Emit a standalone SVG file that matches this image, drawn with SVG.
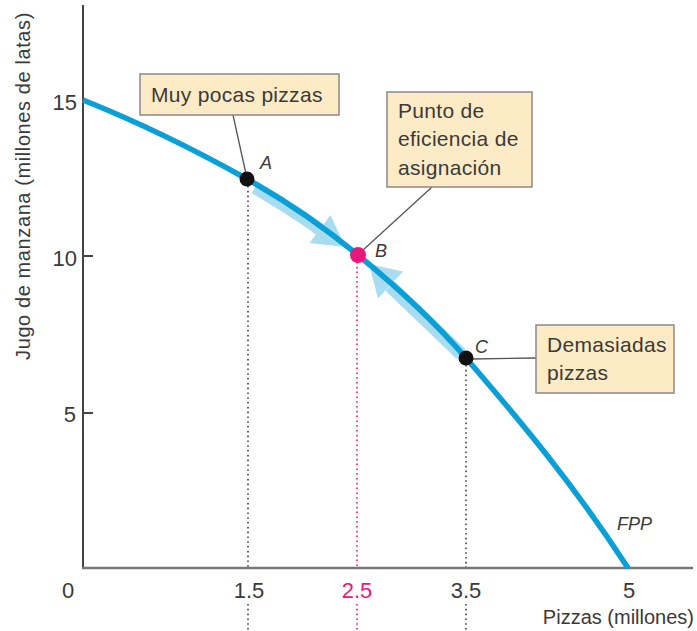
<svg xmlns="http://www.w3.org/2000/svg" width="697" height="631" viewBox="0 0 697 631">
<style>
text{font-family:"Liberation Sans",Arial,sans-serif;fill:#3a3a3a}
.tick{font-size:22px}
.box rect{fill:#fdebc6;stroke:#8a8a8a;stroke-width:1.5}
.box text{font-size:21px;letter-spacing:0.3px}
.lbl{font-size:18px;font-style:italic}
.dot{stroke:#555;stroke-width:1.8;stroke-dasharray:1.6 3.2;fill:none}
.dotp{stroke:#e8338a;stroke-width:1.8;stroke-dasharray:1.6 3.2;fill:none}
.lead{stroke:#555;stroke-width:1.3;fill:none}
.band{stroke:#a9dcee;stroke-width:13;fill:none}
.head{fill:#a9dcee}
</style>
<rect width="697" height="631" fill="#fff"/>
<g id="axes">
<line x1="83" y1="5" x2="83" y2="569" stroke="#444" stroke-width="2"/>
<line x1="82" y1="568" x2="693" y2="568" stroke="#777" stroke-width="2.5"/>
<line x1="83" y1="256" x2="93" y2="256" stroke="#444" stroke-width="2"/>
<line x1="83" y1="413" x2="93" y2="413" stroke="#444" stroke-width="2"/>
<text class="tick" x="77" y="110" text-anchor="end">15</text>
<text class="tick" x="77" y="266" text-anchor="end">10</text>
<text class="tick" x="76" y="422" text-anchor="end">5</text>
<text class="tick" x="68" y="598" text-anchor="middle">0</text>
<text class="tick" x="249" y="598" text-anchor="middle">1.5</text>
<text class="tick" x="357" y="598" text-anchor="middle" style="fill:#e5197c">2.5</text>
<text class="tick" x="466" y="598" text-anchor="middle">3.5</text>
<text class="tick" x="629" y="598" text-anchor="middle">5</text>
<text x="694" y="624" text-anchor="end" font-size="20">Pizzas (millones)</text>
<text transform="translate(30,186) rotate(-90)" text-anchor="middle" font-size="20" letter-spacing="0.6">Jugo de manzana (millones de latas)</text>
</g>
<g id="guides">
<line class="dot" x1="248" y1="186" x2="248" y2="567"/>
<line class="dot" x1="248" y1="604" x2="248" y2="631"/>
<line class="dotp" x1="357" y1="262" x2="357" y2="567"/>
<line class="dotp" x1="357" y1="604" x2="357" y2="631"/>
<line class="dot" x1="466" y1="365" x2="466" y2="567"/>
<line class="dot" x1="466" y1="604" x2="466" y2="631"/>
</g>
<g id="arrows">
<path class="band" d="M255,187.5 Q298,213 320,229.5"/>
<polygon class="head" points="309.5,243 330.5,215 345,247"/>
<path class="band" d="M461,354 L390,286"/>
<polygon class="head" points="403,271.5 378,298.5 369,264"/>
</g>
<g id="fpp">
<path d="M83,100 C137.7,121.9 192.3,148.4 247,179 C284,199.7 321,224.7 358,255 C394,284.5 430,316.2 466,358 C520,420.6 574,484.8 628,568" fill="none" stroke="#0a9fd6" stroke-width="5.5"/>
<text class="lbl" x="617" y="530">FPP</text>
</g>
<g id="connectors">
<line class="lead" x1="233" y1="115" x2="246" y2="174"/>
<line class="lead" x1="432" y1="187" x2="362" y2="251"/>
<line class="lead" x1="472" y1="359" x2="536" y2="358"/>
</g>
<g id="pointA">
<circle cx="247" cy="179" r="7.5" fill="#111"/>
<text class="lbl" x="260" y="169">A</text>
</g>
<g id="pointB">
<circle cx="358" cy="255" r="8" fill="#e5197c"/>
<text class="lbl" x="375" y="257">B</text>
</g>
<g id="pointC">
<circle cx="466" cy="358" r="7.5" fill="#111"/>
<text class="lbl" x="475" y="353">C</text>
</g>
<g id="boxA" class="box">
<rect x="140" y="74" width="199" height="41"/>
<text x="151" y="102">Muy pocas pizzas</text>
</g>
<g id="boxB" class="box">
<rect x="387" y="92" width="145" height="95"/>
<text x="398" y="118">Punto de</text>
<text x="398" y="146">eficiencia de</text>
<text x="398" y="175">asignación</text>
</g>
<g id="boxC" class="box">
<rect x="536" y="325" width="138" height="68"/>
<text x="547" y="352">Demasiadas</text>
<text x="547" y="380">pizzas</text>
</g>
</svg>
